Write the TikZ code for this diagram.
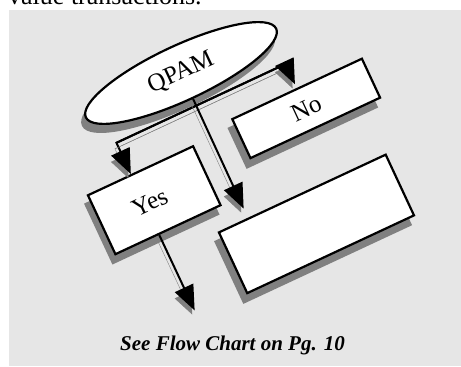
\documentclass[tikz,border=0pt]{standalone}
\usepackage{fontspec}
\setmainfont{Liberation Serif}
\usetikzlibrary{shapes.geometric,arrows.meta,calc}
\definecolor{panelgray}{RGB}{230,230,230}
\definecolor{shadowgray}{RGB}{128,128,128}
\begin{document}
\begin{tikzpicture}[x=1pt,y=1pt,
  flowbox/.style={draw=black, line width=2.2pt, fill=white, inner sep=0pt, font=\fontsize{25}{29}\selectfont},
  shadowbox/.style={draw=shadowgray, line width=2.2pt, fill=shadowgray, inner sep=0pt},
  conn/.style={draw=black, line width=2pt, preaction={draw=shadowgray, transform canvas={shift={(-1.5pt,-6pt)}}}},
  arr/.style={conn, -{Triangle[length=25pt,width=20pt]}},
]
\useasboundingbox (0,0) rectangle (461,367);
\node[anchor=base west, inner sep=0pt, font=\fontsize{26}{30}\selectfont] (toptext) at (8,362) {value transactions.};
\fill[panelgray] (9,1) rectangle (461,357);
\node[anchor=base, inner sep=0pt, font=\bfseries\itshape\fontsize{21}{25}\selectfont] (caption) at (232.5,16) {See Flow Chart on Pg. 10};
\begin{scope}[shift={(181,294)}, rotate=25, transform shape]
  % shadows
  \node[ellipse, shadowbox, minimum width=210pt, minimum height=55pt] (qsh) at (-6,-6) {};
  \node[shadowbox, minimum width=116pt, minimum height=65pt] (yessh) at (-84,-111) {};
  \node[shadowbox, minimum width=143pt, minimum height=43pt] (nosh) at (91.5,-92) {};
  \node[shadowbox, minimum width=184pt, minimum height=67pt] (bigsh) at (52,-201) {};
  % shapes
  \node[ellipse, flowbox, minimum width=210pt, minimum height=55pt] (q) at (0,0) {QPAM};
  \node[flowbox, minimum width=116pt, minimum height=65pt] (yes) at (-78,-104) {\hspace*{-10pt}Yes};
  \node[flowbox, minimum width=143pt, minimum height=43pt] (no) at (98.5,-85) {No};
  \node[flowbox, minimum width=184pt, minimum height=67pt] (big) at (59,-194) {};
  % connectors
  \coordinate (cl) at (-88,-36);
  \coordinate (cr) at (98.5,-36);
  \coordinate (yout) at (-88,-221);
  \draw[arr] (cr) -- (cl) -- ($(yes.north west)!0.414!(yes.north east)$);
  \draw[arr, shorten >=4pt] (cl) -- (cr) -- (no.north);
  \draw[arr, shorten >=10pt] (q.south) -- ($(big.north west)!0.18!(big.north east)$);
  \draw[arr] ($(yes.south west)!0.414!(yes.south east)$) -- (yout);
\end{scope}
\end{tikzpicture}
\end{document}
